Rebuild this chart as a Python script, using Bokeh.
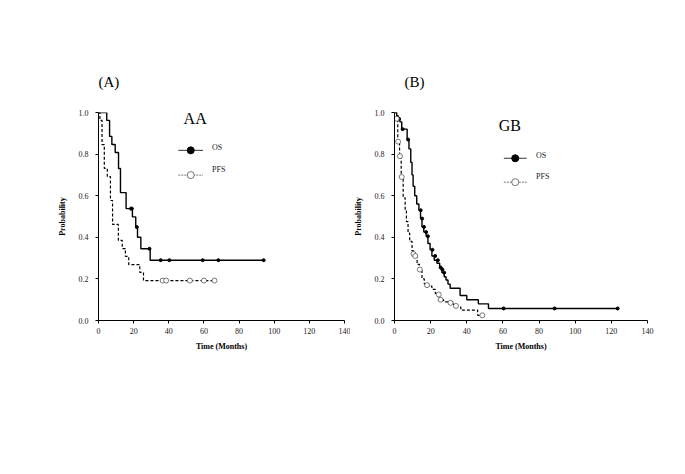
from bokeh.plotting import figure
from bokeh.layouts import row
from bokeh.models import Range1d, Label, FixedTicker
from bokeh.embed import file_html
from bokeh.resources import INLINE

# ---------------- data ----------------
x_ticks = [0, 20, 40, 60, 80, 100, 120, 140]
y_ticks = [0.0, 0.2, 0.4, 0.6, 0.8, 1.0]

# Panel A (AA)
aa_os_t = [0, 4.7, 6.3, 7.6, 9.5, 11.4, 12.5, 15.7, 19.3, 21.2, 22.2, 24.1, 29.4]
aa_os_s = [1.0, 0.962, 0.885, 0.846, 0.808, 0.731, 0.615, 0.538, 0.498, 0.449, 0.40, 0.345, 0.29]
aa_os_end = 94
aa_os_cens_t = [18.5, 19.0, 21.8, 29.0, 35.4, 40.3, 59.3, 68.2, 94]
aa_os_cens_s = [0.538, 0.538, 0.449, 0.345, 0.29, 0.29, 0.29, 0.29, 0.29]

aa_pfs_t = [0, 0.8, 2.0, 3.3, 5.0, 6.8, 8.0, 11.3, 13.5, 15.3, 17.2, 23.5, 25.6]
aa_pfs_s = [1.0, 0.962, 0.846, 0.731, 0.692, 0.577, 0.462, 0.385, 0.346, 0.308, 0.269, 0.231, 0.192]
aa_pfs_end = 66
aa_pfs_cens_t = [36.5, 38.5, 52, 60, 66]
aa_pfs_cens_s = [0.192, 0.192, 0.192, 0.192, 0.192]

# Panel B (GB)
gb_os_t = [0, 1.2, 2.0, 3.0, 4.0, 7.0, 8.0, 9.0, 9.7, 10.3, 11.2, 12.3, 13.5, 14.4, 15.2,
           16.2, 17.5, 18.5, 19.7, 20.7, 22.0, 23.5, 25.0, 26.2, 27.5, 28.5, 29.6, 30.8,
           32.7, 36.3, 40.0, 46.4, 52.0]
gb_os_s = [1.0, 0.985, 0.97, 0.955, 0.92, 0.87, 0.825, 0.76, 0.70, 0.645, 0.60, 0.56, 0.53,
           0.49, 0.45, 0.425, 0.405, 0.37, 0.34, 0.31, 0.29, 0.275, 0.255, 0.23, 0.21, 0.195,
           0.175, 0.155, 0.155, 0.12, 0.10, 0.08, 0.058]
gb_os_end = 123.5
gb_os_cens_t = [2.5, 4.5, 7.5, 14.5, 15.3, 16.3, 17.5, 18.5, 21.0, 22.5, 24.0, 25.5, 26.5,
                27.5, 60.4, 88.6, 123.5]
gb_os_cens_s = [0.97, 0.92, 0.87, 0.53, 0.49, 0.45, 0.425, 0.405, 0.34, 0.31, 0.29, 0.255,
                0.245, 0.23, 0.058, 0.058, 0.058]

gb_pfs_t = [0, 1.2, 1.8, 2.8, 3.7, 4.8, 5.9, 6.6, 7.5, 8.4, 9.7, 11.2, 12.5, 13.8, 15.2,
            16.5, 18.9, 20.7, 22.6, 24.0, 25.3, 27.2, 32.7, 34.5, 36.7, 46.0]
gb_pfs_s = [1.0, 0.97, 0.86, 0.79, 0.69, 0.59, 0.53, 0.475, 0.42, 0.38, 0.335, 0.31, 0.27,
            0.245, 0.20, 0.175, 0.165, 0.15, 0.13, 0.11, 0.10, 0.09, 0.075, 0.065, 0.05, 0.025]
gb_pfs_end = 48.6
gb_pfs_cens_t = [1.2, 2.0, 3.0, 4.0, 10.5, 11.5, 14.0, 18.0, 24.5, 25.5, 31.0, 34.0, 48.6]
gb_pfs_cens_s = [0.97, 0.86, 0.79, 0.69, 0.32, 0.31, 0.245, 0.17, 0.125, 0.10, 0.085, 0.07, 0.025]

SERIF = "Liberation Serif"


def make_panel(width, height, bl, br, bt, bb, panel_label, title_offset, group, grp_xy,
               os_data, pfs_data, leg):
    p = figure(width=width, height=height, output_backend="svg", toolbar_location=None,
               x_range=Range1d(0, 140), y_range=Range1d(0, 1.0),
               min_border_left=bl, min_border_right=br, min_border_top=bt,
               min_border_bottom=bb)
    p.outline_line_color = None
    p.xgrid.visible = False
    p.ygrid.visible = False
    p.background_fill_color = "white"
    p.border_fill_color = "white"

    p.title.text = panel_label
    p.title.text_font = SERIF
    p.title.text_font_size = "15px"
    p.title.text_font_style = "normal"
    p.title.text_color = "black"
    p.title.align = "left"
    p.title.offset = title_offset
    p.title.standoff = 46

    for ax in (p.xaxis[0], p.yaxis[0]):
        ax.axis_line_color = "black"
        ax.axis_line_width = 1
        ax.major_tick_line_color = "black"
        ax.major_tick_in = 0
        ax.major_tick_out = 3
        ax.minor_tick_line_color = None
        ax.major_label_text_font = SERIF
        ax.major_label_text_font_size = "8px"
        ax.major_label_text_color = "#222222"
        ax.axis_label_text_font = SERIF
        ax.axis_label_text_font_size = "8px"
        ax.axis_label_text_font_style = "bold"
        ax.axis_label_text_color = "black"
    p.xaxis.ticker = FixedTicker(ticks=x_ticks)
    p.yaxis.ticker = FixedTicker(ticks=y_ticks)
    p.yaxis.major_label_overrides = {v: f"{v:.1f}" for v in y_ticks}
    p.xaxis.axis_label = "Time (Months)"
    p.yaxis.axis_label = "Probability"
    p.xaxis.major_label_standoff = 4
    p.yaxis.major_label_standoff = 7
    p.xaxis.axis_label_standoff = 5
    p.yaxis.axis_label_standoff = 9

    # OS solid
    t, s, end, ct, cs = os_data
    p.step(t + [end], s + [s[-1]], mode="after", line_color="black", line_width=1.4)
    p.scatter(ct, cs, size=3, marker="circle", fill_color="black", line_color="black")
    # PFS dashed
    t, s, end, ct, cs = pfs_data
    p.step(t + [end], s + [s[-1]], mode="after", line_color="black", line_width=1.2,
           line_dash="3 2")
    p.scatter(ct, cs, size=5, marker="circle", fill_color="white", line_color="#555555",
              line_width=0.8)

    p.add_layout(Label(x=grp_xy[0], y=grp_xy[1], text=group, text_font=SERIF,
                       text_font_size="16px", text_baseline="middle", text_align="center",
                       text_color="black"))

    # legend (manual)
    lx0, lx1, lm, ly_os, ly_pfs, tx = leg
    p.line([lx0, lx1], [ly_os, ly_os], line_color="#333333", line_width=1)
    p.scatter([lm], [ly_os], size=7, marker="circle", fill_color="black", line_color="black")
    p.line([lx0, lx1], [ly_pfs, ly_pfs], line_color="#777777", line_width=1, line_dash="2 1")
    p.scatter([lm], [ly_pfs], size=7, marker="circle", fill_color="white",
              line_color="#555555", line_width=0.8)
    p.add_layout(Label(x=tx, y=ly_os + 0.015, text="OS", text_font=SERIF,
                       text_font_size="8px", text_baseline="middle", text_align="left",
                       text_color="#222222"))
    p.add_layout(Label(x=tx, y=ly_pfs + 0.025, text="PFS", text_font=SERIF,
                       text_font_size="8px", text_baseline="middle", text_align="left",
                       text_color="#222222"))
    return p


pa = make_panel(350, 458, 98, 6, 112, 138, "(A)", 0, "AA", (55, 0.97),
                (aa_os_t, aa_os_s, aa_os_end, aa_os_cens_t, aa_os_cens_s),
                (aa_pfs_t, aa_pfs_s, aa_pfs_end, aa_pfs_cens_t, aa_pfs_cens_s),
                (45.4, 59.5, 52.5, 0.818, 0.699, 64.6))
pb = make_panel(327, 458, 42, 30, 109, 137, "(B)", 10, "GB", (63.8, 0.937),
                (gb_os_t, gb_os_s, gb_os_end, gb_os_cens_t, gb_os_cens_s),
                (gb_pfs_t, gb_pfs_s, gb_pfs_end, gb_pfs_cens_t, gb_pfs_cens_s),
                (60.5, 73.2, 66.8, 0.78, 0.665, 78.3))

layout = row(pa, pb)
open("out.html", "w").write(file_html(layout, INLINE))
